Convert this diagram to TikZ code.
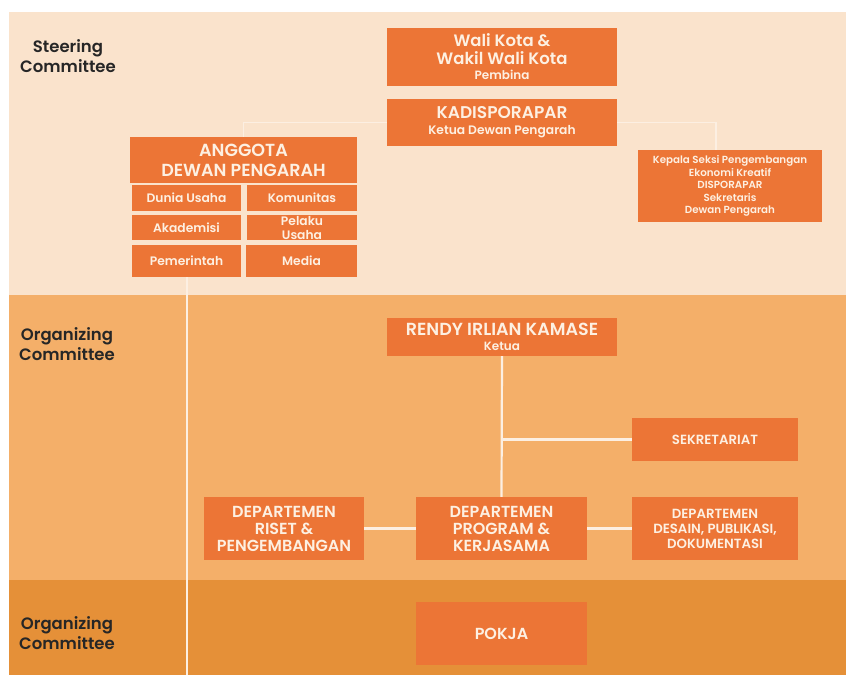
\documentclass[tikz,border=0pt]{standalone}
\usepackage{fontspec}
\setmainfont{Poppins}[BoldFont={Poppins SemiBold}]
\begin{document}
\definecolor{bandA}{HTML}{FAE3CC}
\definecolor{bandB}{HTML}{F4AF69}
\definecolor{bandC}{HTML}{E59038}
\definecolor{boxfill}{HTML}{EC7536}
\definecolor{boxtext}{HTML}{FDF0E2}
\definecolor{linkcol}{HTML}{FCEFE2}
\definecolor{labeltext}{HTML}{262626}
\newcommand{\fsz}[2]{\fontsize{#1}{#2}\selectfont}
\begin{tikzpicture}[x=1pt,y=-1pt,
  orgbox/.style={fill=boxfill, text=boxtext, inner sep=0pt, align=center,
    font=\bfseries},
  sidelabel/.style={text=labeltext, align=center, font=\fsz{16.5}{20}\bfseries},
  link/.style={draw=linkcol, line width=2.2pt},
  toplink/.style={draw=linkcol, line width=1.5pt},
  sub/.style={font=\fsz{12.3}{13}\bfseries}]
  \useasboundingbox (0,0) rectangle (846,675);
  % background bands
  \fill[white] (0,0) rectangle (846,675);
  \fill[bandA] (9,12) rectangle (846,295);
  \fill[bandB] (9,295) rectangle (846,580);
  \fill[bandC] (9,580) rectangle (846,675);

  % band labels
  \node[sidelabel] (lblSC) at (68,56) {Steering\\Committee};
  \node[sidelabel] (lblOC) at (67,344) {Organizing\\Committee};
  \node[sidelabel] (lblOC2) at (67,633) {Organizing\\Committee};

  % steering committee
  \node[orgbox, font=\fsz{16.5}{18}\bfseries, minimum width=230, minimum height=58] (wali) at (502,57)
    {Wali Kota \&\\Wakil Wali Kota\\[-3pt]\fsz{12}{13}Pembina};
  \node[orgbox, font=\fsz{17}{17}\bfseries, minimum width=230, minimum height=47] (kadis) at (502,122.5)
    {KADISPORAPAR\\[-1pt]\fsz{12.3}{13}Ketua Dewan Pengarah};
  \node[orgbox, font=\fsz{17.5}{20}\bfseries, minimum width=227, minimum height=46] (anggota) at (243.5,160)
    {ANGGOTA\\DEWAN PENGARAH};
  \node[orgbox, sub, minimum width=109, minimum height=26] (dunia) at (186.5,198) {Dunia Usaha};
  \node[orgbox, sub, minimum width=110, minimum height=26] (komunitas) at (302,198) {Komunitas};
  \node[orgbox, sub, minimum width=109, minimum height=25] (akademisi) at (186.5,227.5) {Akademisi};
  \node[orgbox, font=\fsz{12.3}{14}\bfseries, minimum width=110, minimum height=25] (pelaku) at (302,227.5)
    {Pelaku\\Usaha};
  \node[orgbox, sub, minimum width=109, minimum height=32] (pemerintah) at (186.5,261) {Pemerintah};
  \node[orgbox, sub, minimum width=111, minimum height=32] (media) at (301.5,261) {Media};
  \node[orgbox, font=\fsz{10.3}{12.5}\bfseries, minimum width=184, minimum height=72] (kepala) at (730,186)
    {Kepala Seksi Pengembangan\\Ekonomi Kreatif\\DISPORAPAR\\Sekretaris\\Dewan Pengarah};

  % organizing committee
  \node[orgbox, font=\fsz{17.5}{18}\bfseries, minimum width=230, minimum height=38] (rendy) at (502,337)
    {RENDY IRLIAN KAMASE\\[-3pt]\fsz{12}{12}Ketua};
  \node[orgbox, font=\fsz{13.3}{15}\bfseries, minimum width=166, minimum height=43] (sekretariat) at (715,439.5)
    {SEKRETARIAT};
  \node[orgbox, font=\fsz{16}{17}\bfseries, minimum width=160, minimum height=63] (riset) at (284,528.5)
    {DEPARTEMEN\\RISET \&\\PENGEMBANGAN};
  \node[orgbox, font=\fsz{16}{17}\bfseries, minimum width=171, minimum height=63] (program) at (501.5,528.5)
    {DEPARTEMEN\\PROGRAM \&\\KERJASAMA};
  \node[orgbox, font=\fsz{13.3}{15}\bfseries, minimum width=166, minimum height=63] (desain) at (715,528.5)
    {DEPARTEMEN\\DESAIN, PUBLIKASI,\\DOKUMENTASI};

  % working groups
  \node[orgbox, font=\fsz{16}{17}\bfseries, minimum width=171, minimum height=63] (pokja) at (501.5,633.5)
    {POKJA};

  % connectors
  \coordinate (kepalaTop) at (716,150);
  \coordinate (branch) at (502,439.5);
  \coordinate (leftEnd) at (187,675);
  \draw[toplink] (kadis.west) -| (anggota.north);
  \draw[toplink] (kadis.east) -| (kepalaTop);
  \draw[toplink] (pemerintah.south -| leftEnd) -- (leftEnd);
  \draw[link] (rendy.south) -- (program.north);
  \draw[link] (branch) -- (sekretariat.west);
  \draw[link] (riset.east) -- (program.west);
  \draw[link] (program.east) -- (desain.west);
\end{tikzpicture}
\end{document}
